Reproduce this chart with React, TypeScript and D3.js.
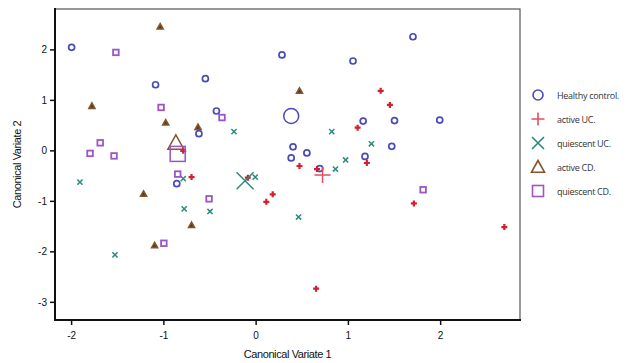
import React from 'react';
import * as d3 from 'd3';

// canonical variate scores, [cv1, cv2]
const healthy = [
  [-2.0, 2.05], [-1.09, 1.31], [-0.55, 1.43], [-0.43, 0.79], [-0.62, 0.34], [-0.86, -0.65],
  [0.28, 1.9], [0.4, 0.08], [0.38, -0.14], [0.55, -0.04], [0.69, -0.35], [1.05, 1.78],
  [1.7, 2.26], [1.16, 0.59], [1.5, 0.6], [1.99, 0.61], [1.47, 0.09], [1.18, -0.11],
];
const activeUC = [
  [1.35, 1.19], [1.45, 0.91], [1.1, 0.46], [1.2, -0.24], [0.47, -0.3], [0.66, -0.36],
  [-0.7, -0.52], [-0.09, -0.53], [0.11, -1.01], [0.18, -0.86], [0.65, -2.73], [1.71, -1.04],
  [2.69, -1.51], [-0.79, 0.0],
];
const quiescentUC = [
  [-1.91, -0.62], [-1.53, -2.06], [-0.78, -1.15], [-0.5, -1.2], [-0.79, -0.55], [-0.01, -0.52],
  [0.46, -1.31], [-0.24, 0.38], [0.82, 0.38], [1.25, 0.14], [0.97, -0.18], [0.86, -0.36],
];
const activeCD = [
  [-1.04, 2.46], [-1.78, 0.89], [-0.98, 0.56], [-0.63, 0.47], [0.47, 1.19],
  [-1.22, -0.85], [-1.1, -1.87], [-0.7, -1.47],
];
const quiescentCD = [
  [-1.52, 1.95], [-1.03, 0.86], [-0.37, 0.66], [-1.8, -0.05], [-1.69, 0.16], [-1.54, -0.1],
  [-0.85, -0.46], [-0.51, -0.95], [-1.0, -1.83], [1.81, -0.77],
];
// group centroids
const centroids = [
  [0.38, 0.69], [0.72, -0.48], [-0.12, -0.59], [-0.87, 0.16], [-0.85, -0.06],
];
const groupNames = ['Healthy control.', 'active UC.', 'quiescent UC.', 'active CD.', 'quiescent CD.'];
const groupShapes = ['circle', 'plus', 'cross', 'triangle', 'square'];
const groupColors = ['#4b4bb8', '#d2202e', '#2b8a80', '#85542a', '#9b55c6'];
const groups = [healthy, activeUC, quiescentUC, activeCD, quiescentCD];

const xTicks = [-2, -1, 0, 1, 2];
const yTicks = [-3, -2, -1, 0, 1, 2];

const W = 628, H = 363;
const m = { left: 55, right: 520, top: 9, bottom: 320 };

function Marker({ shape, x, y, s, color, sw, fill = 'white' }: any) {
  if (shape === 'circle')
    return <circle cx={x} cy={y} r={s} fill={fill} stroke={color} strokeWidth={sw} />;
  if (shape === 'square')
    return <rect x={x - s} y={y - s} width={2 * s} height={2 * s} fill={fill} stroke={color} strokeWidth={sw} />;
  if (shape === 'triangle')
    return <path d={`M${x},${y - s}L${x + s},${y + s * 0.8}L${x - s},${y + s * 0.8}Z`} fill={fill} stroke={color} strokeWidth={sw} />;
  if (shape === 'plus')
    return <path d={`M${x - s},${y}H${x + s}M${x},${y - s}V${y + s}`} stroke={color} strokeWidth={sw} />;
  return <path d={`M${x - s},${y - s}L${x + s},${y + s}M${x - s},${y + s}L${x + s},${y - s}`} stroke={color} strokeWidth={sw} />;
}

export default function App() {
  const x = d3.scaleLinear().domain([-2.18, 2.86]).range([m.left, m.right]);
  const y = d3.scaleLinear().domain([-3.35, 2.81]).range([m.bottom, m.top]);
  const font = "'Liberation Sans', Arial, sans-serif";
  const smallSize = [3, 3, 2.6, 3, 2.8];
  const smallSw = [1.7, 2.2, 1.5, 1.6, 1.8];
  const smallFill = ['white', 'none', 'none', '#5a3a1c', 'white'];
  const bigSize = [7.5, 8, 8.5, 8, 7.5];

  return (
    <svg width={W} height={H} style={{ position: 'absolute', left: 0, top: 0, background: 'white' }}>
      <rect x={m.left} y={m.top} width={m.right - m.left} height={m.bottom - m.top} fill="white" stroke="#555" strokeWidth={1.2} />
      {groups.map((g, gi) =>
        g.map((d, i) => (
          <Marker key={gi + '-' + i} shape={groupShapes[gi]} x={x(d[0])} y={y(d[1])}
            s={smallSize[gi]} color={groupColors[gi]} sw={smallSw[gi]} fill={smallFill[gi]} />
        ))
      )}
      {centroids.map((d, gi) => (
        <Marker key={'c' + gi} shape={groupShapes[gi]} x={x(d[0])} y={y(d[1])}
          s={bigSize[gi]} color={gi === 1 ? '#e0505e' : groupColors[gi]} sw={1.5} fill="none" />
      ))}
      {/* axes */}
      <line x1={m.left} x2={m.left} y1={m.top - 1} y2={m.bottom + 1} stroke="#111" strokeWidth={2} />
      <line x1={m.left - 1} x2={m.right + 1} y1={m.bottom} y2={m.bottom} stroke="#111" strokeWidth={2} />
      {xTicks.map(t => (
        <g key={'x' + t}>
          <line x1={x(t)} x2={x(t)} y1={m.bottom} y2={m.bottom + 5} stroke="#111" strokeWidth={1.5} />
          <text x={x(t)} y={m.bottom + 19} textAnchor="middle" fontFamily={font} fontSize={10} fill="#111">{t}</text>
        </g>
      ))}
      {yTicks.map(t => (
        <g key={'y' + t}>
          <line x1={m.left - 5} x2={m.left} y1={y(t)} y2={y(t)} stroke="#111" strokeWidth={1.5} />
          <text x={m.left - 8} y={y(t) + 3.5} textAnchor="end" fontFamily={font} fontSize={10} fill="#111">{t}</text>
        </g>
      ))}
      <text x={(m.left + m.right) / 2} y={358} textAnchor="middle" fontFamily={font} fontSize={11} fill="#111" letterSpacing={-0.4}>Canonical Variate 1</text>
      <text transform={`translate(21,${(m.top + m.bottom) / 2}) rotate(-90)`} textAnchor="middle" fontFamily={font} fontSize={11} fill="#111" letterSpacing={-0.4}>Canonical Variate 2</text>
      {/* legend */}
      {groupNames.map((n, i) => (
        <g key={n} transform={`translate(538,${95 + i * 24})`}>
          <Marker shape={groupShapes[i]} x={0} y={0} s={[5, 6.5, 6, 6.5, 5.5][i]} color={i === 1 ? '#e0505e' : groupColors[i]} sw={1.6} />
          <text x={19} y={3.5} fontFamily="'Open Sans', sans-serif" fontSize={9} fill="#333" letterSpacing={-0.3}>{n}</text>
        </g>
      ))}
    </svg>
  );
}
